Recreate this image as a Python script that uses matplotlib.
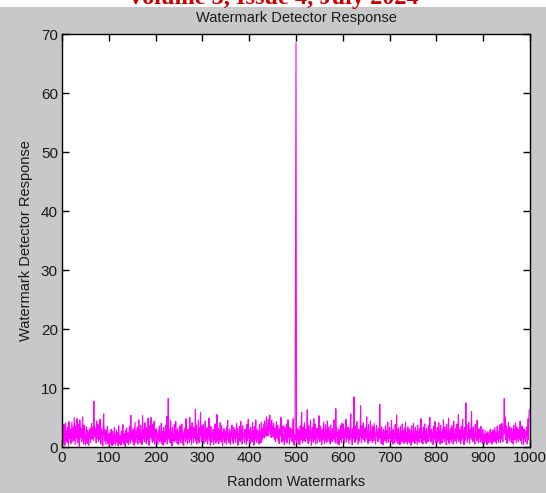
import numpy as np
import matplotlib
matplotlib.use('Agg')
import matplotlib.pyplot as plt
from matplotlib.patches import Rectangle

plt.rcParams['font.family'] = ['Liberation Sans', 'DejaVu Sans']

# detector response for each of the 1000 random watermarks
resp_0 = [4.4, 1.2, 2.8, 0.5, 3.9, 1.7, 0.3, 2.2, 4.1, 1.0,
          2.6, 0.8, 3.4, 1.9, 0.2, 4.3, 2.1, 1.4, 3.0, 0.6,
          1.8, 4.2, 2.7, 0.9, 3.3, 1.1, 5.0, 2.4, 0.4, 3.6,
          1.5, 2.9, 4.8, 0.7, 2.0, 3.8, 1.3, 0.1, 4.6, 2.5,
          1.6, 3.2, 0.9, 2.3, 5.1, 1.8, 0.5, 3.7, 2.6, 1.2,
          0.4, 2.1, 3.5, 1.0, 0.6, 2.8, 1.9, 0.3, 2.4, 1.7,
          3.1, 0.8, 2.2, 4.0, 1.4, 2.7, 3.3, 1.1, 7.8, 2.0,
          3.4, 1.6, 2.9, 0.7, 4.4, 2.3, 1.5, 3.8, 0.9, 2.6,
          1.3, 4.7, 2.0, 0.5, 3.1, 1.8, 2.5, 0.2, 3.6, 5.6,
          2.2, 1.0, 3.0, 1.7, 0.4, 2.8, 1.2, 3.5, 0.6, 2.1]
resp_1 = [1.5, 0.3, 2.4, 1.1, 0.7, 3.0, 1.9, 0.2, 2.6, 1.3,
          0.5, 2.2, 3.3, 1.0, 0.4, 1.7, 2.9, 0.8, 1.4, 2.5,
          0.2, 3.6, 1.2, 0.6, 2.0, 1.8, 0.3, 2.7, 1.5, 0.9,
          3.8, 1.1, 0.5, 2.3, 1.6, 0.1, 2.8, 1.0, 3.2, 0.7,
          1.9, 2.4, 0.4, 1.3, 3.5, 2.1, 0.6, 5.4, 1.7, 1.2,
          2.6, 0.9, 3.1, 1.4, 0.3, 2.2, 4.2, 1.0, 0.8, 2.7,
          1.6, 3.4, 0.5, 2.0, 4.6, 1.3, 2.9, 0.7, 3.7, 1.1,
          2.3, 0.4, 5.3, 2.8, 1.5, 3.0, 0.9, 4.1, 2.2, 1.8,
          0.6, 3.3, 2.5, 1.2, 4.9, 2.0, 0.3, 3.6, 1.7, 2.4,
          5.0, 1.4, 2.8, 0.8, 3.9, 2.1, 1.0, 4.4, 0.5, 2.6]
resp_2 = [1.9, 3.1, 0.7, 2.4, 1.3, 0.4, 2.8, 1.6, 3.5, 0.9,
          2.2, 1.1, 4.0, 0.6, 2.7, 1.8, 0.3, 3.3, 1.5, 2.5,
          0.8, 3.7, 1.2, 2.0, 5.2, 0.5, 2.9, 8.2, 1.4, 3.0,
          2.3, 0.7, 4.5, 1.7, 2.6, 0.2, 3.4, 1.0, 2.1, 1.6,
          3.8, 0.9, 2.4, 4.3, 1.3, 2.8, 0.6, 3.1, 1.9, 0.4,
          2.5, 1.2, 3.6, 0.8, 2.0, 1.5, 3.9, 0.5, 2.7, 1.1,
          0.3, 2.2, 1.7, 3.2, 0.9, 4.8, 1.4, 2.6, 0.6, 3.0,
          1.8, 2.3, 0.7, 5.0, 1.2, 3.5, 2.0, 0.4, 4.1, 1.6,
          2.9, 0.8, 3.3, 1.5, 2.4, 6.4, 1.0, 3.7, 0.5, 2.1,
          1.3, 4.6, 2.8, 0.7, 3.2, 1.9, 5.8, 2.2, 0.9, 3.6]
resp_3 = [2.0, 1.2, 3.8, 0.6, 2.5, 1.7, 4.4, 0.9, 2.9, 1.4,
          3.3, 0.5, 2.1, 1.8, 4.9, 1.1, 2.6, 0.3, 3.5, 1.9,
          0.8, 2.3, 1.5, 3.0, 0.4, 2.7, 1.2, 3.9, 2.0, 0.7,
          1.6, 5.5, 2.4, 1.0, 3.2, 0.6, 2.8, 1.3, 4.1, 2.2,
          0.9, 3.6, 1.7, 0.2, 2.5, 1.4, 3.1, 0.8, 2.0, 1.1,
          2.7, 0.5, 3.4, 1.9, 4.5, 1.2, 2.3, 0.7, 3.0, 1.6,
          0.4, 2.6, 1.8, 3.7, 1.0, 2.1, 0.6, 3.3, 1.5, 2.9,
          1.3, 0.8, 2.4, 4.0, 1.7, 3.1, 0.3, 2.2, 1.1, 3.5,
          2.0, 0.9, 4.3, 1.4, 2.8, 0.5, 3.6, 1.9, 2.3, 1.2,
          0.7, 3.0, 1.6, 2.5, 0.4, 3.8, 1.1, 2.6, 4.7, 1.8]
resp_4 = [1.4, 2.9, 0.6, 3.3, 1.8, 2.2, 0.9, 4.1, 1.5, 2.7,
          0.3, 3.5, 1.1, 2.4, 4.6, 1.7, 0.8, 3.0, 2.1, 1.3,
          2.6, 0.5, 3.8, 1.9, 2.3, 0.7, 4.2, 1.2, 3.1, 1.6,
          2.8, 3.9, 1.5, 4.4, 2.2, 3.0, 1.8, 5.1, 2.5, 3.6,
          1.9, 4.7, 2.7, 3.3, 5.4, 2.1, 3.8, 1.6, 4.5, 2.9,
          3.4, 1.7, 4.0, 2.4, 1.3, 3.2, 0.9, 2.6, 4.3, 1.5,
          2.0, 3.7, 1.1, 2.8, 0.6, 3.1, 1.9, 2.3, 5.0, 1.4,
          0.8, 2.5, 3.6, 1.2, 2.1, 0.4, 3.4, 1.7, 2.9, 1.0,
          3.9, 0.7, 2.2, 4.6, 1.6, 2.7, 0.5, 3.3, 1.8, 2.4,
          1.1, 3.0, 0.9, 2.6, 4.8, 1.5, 0.3, 2.0, 1.2, 35.0]
resp_5 = [68.5, 0.8, 2.4, 1.3, 3.1, 0.5, 2.7, 1.9, 0.4, 3.6,
          1.2, 2.2, 5.9, 1.6, 0.7, 3.4, 2.0, 1.1, 4.1, 2.5,
          0.9, 3.0, 1.4, 2.8, 6.3, 1.7, 0.6, 3.7, 2.3, 1.0,
          2.9, 4.5, 1.5, 0.3, 2.6, 3.3, 1.8, 0.8, 4.8, 2.1,
          1.3, 3.9, 0.5, 2.4, 1.9, 3.2, 0.7, 2.7, 1.4, 5.3,
          2.2, 0.9, 3.5, 1.6, 2.8, 0.4, 3.0, 1.2, 2.5, 4.2,
          1.8, 0.6, 2.3, 3.8, 1.1, 2.9, 0.8, 4.4, 1.5, 2.0,
          3.4, 1.0, 2.6, 0.5, 3.7, 1.7, 2.2, 0.9, 3.1, 1.4,
          2.7, 4.6, 1.2, 2.1, 0.7, 6.5, 1.9, 3.3, 0.6, 2.4,
          1.6, 3.0, 0.4, 2.8, 1.3, 3.6, 2.0, 0.8, 4.0, 1.5]
resp_6 = [2.3, 3.9, 1.1, 2.6, 0.7, 3.2, 1.8, 4.7, 0.9, 2.4,
          1.5, 3.4, 2.0, 0.6, 2.9, 1.2, 3.7, 5.6, 1.7, 2.2,
          0.4, 3.1, 1.4, 2.7, 8.5, 1.9, 0.8, 3.5, 2.1, 1.3,
          4.3, 1.6, 2.5, 0.5, 3.0, 1.0, 2.8, 1.8, 7.0, 2.3,
          0.7, 3.6, 1.5, 2.1, 4.1, 1.2, 2.9, 0.9, 3.3, 1.7,
          2.4, 5.1, 1.3, 2.7, 0.6, 3.8, 1.9, 2.2, 1.0, 4.4,
          3.2, 1.4, 2.6, 0.8, 3.5, 2.0, 1.1, 4.0, 2.8, 1.6,
          0.5, 2.3, 3.7, 1.8, 2.5, 0.9, 3.1, 1.3, 2.0, 7.2,
          1.7, 2.9, 0.6, 3.4, 1.2, 2.4, 0.4, 3.0, 1.9, 2.6,
          1.1, 3.6, 2.2, 0.7, 2.8, 1.5, 4.2, 0.8, 2.1, 1.4]
resp_7 = [3.3, 1.6, 2.5, 0.9, 4.5, 1.2, 2.7, 0.5, 3.0, 1.8,
          2.2, 0.7, 3.8, 1.4, 2.4, 5.4, 1.0, 2.9, 0.6, 3.2,
          1.7, 2.3, 0.4, 3.5, 1.3, 2.6, 0.8, 3.9, 2.0, 1.1,
          2.8, 0.6, 3.1, 1.5, 4.2, 0.9, 2.4, 1.8, 0.5, 3.4,
          1.2, 2.7, 0.7, 3.0, 1.6, 2.1, 0.3, 3.6, 1.4, 2.5,
          0.9, 4.0, 1.9, 2.2, 0.6, 3.3, 1.1, 2.8, 1.7, 0.4,
          3.7, 1.3, 2.4, 0.8, 3.1, 2.0, 1.5, 4.8, 0.7, 2.6,
          1.8, 0.5, 3.4, 1.2, 2.3, 3.9, 1.0, 2.7, 0.6, 3.2,
          1.4, 2.1, 0.9, 3.6, 1.7, 2.5, 5.0, 1.1, 2.9, 0.8,
          3.0, 1.6, 2.4, 0.4, 3.5, 1.3, 2.2, 4.3, 1.9, 0.7]
resp_8 = [2.6, 1.5, 3.3, 0.8, 2.1, 4.1, 1.2, 2.8, 0.5, 3.7,
          1.9, 2.4, 0.7, 3.0, 1.4, 4.6, 2.2, 0.9, 3.4, 1.6,
          2.7, 0.4, 3.8, 1.8, 2.3, 1.1, 4.9, 0.6, 2.5, 1.3,
          3.2, 2.0, 0.8, 3.6, 1.5, 2.9, 0.5, 4.4, 1.7, 2.2,
          1.0, 3.1, 2.6, 0.7, 3.9, 1.4, 2.4, 5.5, 0.9, 3.0,
          1.8, 2.7, 0.6, 3.5, 1.2, 2.1, 4.7, 1.6, 2.8, 0.4,
          3.3, 1.1, 2.5, 7.5, 1.9, 3.7, 0.8, 2.3, 1.4, 4.2,
          2.0, 0.6, 3.0, 1.7, 2.6, 6.0, 1.3, 2.9, 0.9, 3.4,
          1.5, 2.2, 0.5, 3.8, 1.8, 2.4, 1.0, 4.5, 2.1, 1.2,
          0.7, 3.1, 1.6, 2.7, 0.9, 3.5, 1.4, 2.3, 0.6, 3.0]
resp_9 = [1.2, 2.0, 0.6, 1.7, 2.8, 0.9, 1.5, 2.3, 0.4, 1.9,
          2.6, 1.1, 0.7, 2.2, 1.4, 3.0, 0.8, 1.8, 2.5, 0.5,
          1.3, 2.9, 1.6, 0.9, 2.1, 3.3, 1.0, 2.4, 0.6, 1.7,
          3.5, 1.2, 2.0, 0.8, 2.7, 1.5, 3.8, 0.7, 2.3, 1.4,
          4.0, 1.9, 0.9, 2.6, 3.1, 8.2, 2.2, 5.1, 1.3, 3.6,
          2.4, 0.6, 3.0, 1.5, 4.2, 2.0, 1.0, 3.4, 1.8, 2.7,
          0.8, 3.2, 1.4, 2.5, 0.5, 3.7, 1.9, 2.9, 1.2, 4.1,
          2.1, 0.7, 3.3, 1.6, 2.4, 0.9, 3.0, 1.3, 2.6, 4.4,
          1.1, 2.8, 0.6, 3.5, 1.7, 2.2, 0.4, 3.1, 1.5, 2.0,
          0.9, 2.7, 1.8, 3.4, 0.5, 2.3, 4.8, 1.2, 6.2, 6.3]

response = resp_0 + resp_1 + resp_2 + resp_3 + resp_4 + resp_5 + resp_6 + resp_7 + resp_8 + resp_9
marks = np.arange(len(response))

x_ticks = list(range(0, 1001, 100))
y_ticks = list(range(0, 71, 10))

fig = plt.figure(figsize=(5.46, 4.93), dpi=100, facecolor='#c8c8c8')
# white strip of the page with the clipped journal header
fig.patches.append(Rectangle((0, 0.986), 1, 0.014, transform=fig.transFigure,
                             facecolor='white', edgecolor='none', zorder=-1))
fig.text(0.5, 0.9915, 'Volume 3, Issue 4, July 2024', ha='center', va='baseline',
         fontsize=17.5, fontweight='bold', color='#cc0000', family=['Liberation Serif', 'DejaVu Serif'])

ax = fig.add_axes([0.1136, 0.0933, 0.8571, 0.8377])
ax.plot(marks, response, color='#ff00ff', lw=0.8)

ax.set_xlim(0, 1000)
ax.set_ylim(0, 70)
ax.set_xticks(x_ticks)
ax.set_yticks(y_ticks)
ax.tick_params(direction='in', top=True, right=True, length=5, width=1,
               labelsize=11, pad=3, colors='black', labelcolor='#1a1a1a')
for s in ax.spines.values():
    s.set_linewidth(1.0)

ax.set_title('Watermark Detector Response', fontsize=10.5, pad=9, color='#1a1a1a')
ax.set_xlabel('Random Watermarks', fontsize=10.5, labelpad=7, color='#1a1a1a')
ax.set_ylabel('Watermark Detector Response', fontsize=10.5, labelpad=6, color='#1a1a1a')

fig.savefig('out.png', dpi=100, facecolor=fig.get_facecolor())
